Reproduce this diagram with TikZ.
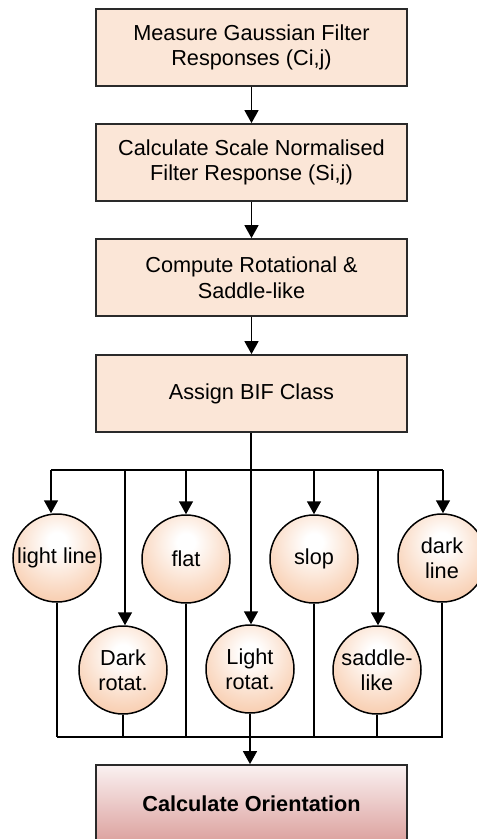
\documentclass[tikz,border=0pt]{standalone}
\usepackage{fontspec}
\setmainfont{Liberation Sans}
\usetikzlibrary{arrows.meta}
\definecolor{boxfill}{HTML}{FBE6D7}
\definecolor{boxdraw}{HTML}{2A2A2A}
\definecolor{orng}{HTML}{F3A874}
\definecolor{pinktop}{HTML}{FAF1F1}
\definecolor{pinkbot}{HTML}{DCA19E}
\pgfdeclareradialshading{ballshade}{\pgfpoint{0bp}{10bp}}{%
  color(0bp)=(white); color(5bp)=(white); color(26bp)=(orng!45!white); color(48bp)=(orng!88!white); color(60bp)=(orng); color(100bp)=(orng)}
\newcommand{\mainfs}{\fontsize{21.7}{25.5}\selectfont}
\tikzset{
  stepbox/.style={draw=boxdraw, line width=1.8pt, fill=boxfill, minimum width=311pt, minimum height=77pt, inner sep=0pt, align=center},
  endbox/.style={draw=boxdraw, line width=1.8pt, top color=pinktop, bottom color=pinkbot, minimum width=311pt, minimum height=77pt, inner sep=0pt, align=center, font=\mainfs\bfseries},
  ball/.style={circle, draw=black, line width=1.5pt, shading=ballshade, minimum size=88pt, inner sep=0pt, align=center},
  conn/.style={line width=1.6pt, black},
  arr/.style={conn, -{Triangle[width=14pt,length=13pt]}}
}
\begin{document}
\begin{tikzpicture}[x=1pt,y=-1pt, font=\mainfs]
\useasboundingbox (0,0) rectangle (477,839);
\fill[white] (0,0) rectangle (477,839);

\node[stepbox] (b1) at (251.5,47.5) {Measure Gaussian Filter\\Responses (Ci,j)};
\node[stepbox] (b2) at (251.5,162.5) {Calculate Scale Normalised\\Filter Response (Si,j)};
\node[stepbox] (b3) at (251.5,277.5) {Compute Rotational \&\\Saddle-like};
\node[stepbox] (b4) at (251.5,393.5) {Assign BIF Class};
\node[endbox] (b5) at (251.5,803.5) {Calculate Orientation};

\node[ball] (ll) at (57,558) {light line};
\node[ball] (fl) at (186,559) {flat};
\node[ball] (sl) at (314,559) {slop};
\node[ball] (dl) at (442,558) {dark\\line};
\node[ball] (dr) at (123,670) {Dark\\rotat.};
\node[ball] (lr) at (250,669) {Light\\rotat.};
\node[ball] (sd) at (377,670) {saddle-\\like};

\draw[arr] (b1) -- (b2);
\draw[arr] (b2) -- (b3);
\draw[arr] (b3) -- (b4);

% top bus
\coordinate (t0) at (251,470);
\coordinate (tL) at (51,470);
\coordinate (tR) at (443,470);
\coordinate (tdr) at (125,470);
\coordinate (tfl) at (186,470);
\coordinate (tsl) at (314,470);
\coordinate (tsd) at (378,470);
\draw[conn] (b4.south -| t0) -- (t0);
\draw[conn] (tL) -- (tR);
\draw[arr] (tL) -- (tL |- ll.north);
\draw[arr] (tfl) -- (fl.north);
\draw[arr] (tsl) -- (sl.north);
\draw[arr] (tR) -- (tR |- dl.north);
\draw[arr] (tdr) -- (tdr |- dr.north);
\draw[arr] (t0) -- (t0 |- lr.north);
\draw[arr] (tsd) -- (tsd |- sd.north);

% bottom bus
\coordinate (uL) at (57,737);
\coordinate (uR) at (443,737);
\draw[conn] (uL) -- (uR);
\draw[conn] (ll.south) -- (ll.south |- uL);
\draw[conn] (dr.south) -- (dr.south |- uL);
\draw[conn] (fl.south) -- (fl.south |- uL);
\draw[conn] (sl.south) -- (sl.south |- uL);
\draw[conn] (sd.south) -- (sd.south |- uL);
\draw[conn] (dl.south) -- (dl.south |- uL);
\draw[arr] (lr.south) -- (lr.south |- b5.north);
\end{tikzpicture}
\end{document}
